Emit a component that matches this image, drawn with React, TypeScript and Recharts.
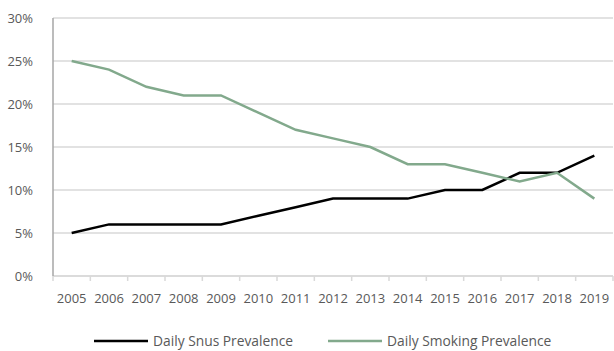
import { LineChart, Line, XAxis, YAxis, CartesianGrid, Legend } from 'recharts'

const years = [
  '2005', '2006', '2007', '2008', '2009', '2010', '2011', '2012',
  '2013', '2014', '2015', '2016', '2017', '2018', '2019',
]
const snus = [5, 6, 6, 6, 6, 7, 8, 9, 9, 9, 10, 10, 12, 12, 14]
const smoking = [25, 24, 22, 21, 21, 19, 17, 16, 15, 13, 13, 12, 11, 12, 9]
const yTicks = [0, 5, 10, 15, 20, 25, 30]

const data = years.map((year, i) => ({ year, snus: snus[i], smoking: smoking[i] }))

const WIDTH = 614
const HEIGHT = 351
const PLOT_LEFT = 53
const PLOT_RIGHT = 1
const STEP = (WIDTH - PLOT_LEFT - PLOT_RIGHT) / years.length
const FONT = '"Open Sans", sans-serif'
const TEXT = '#595959'
const SNUS_COLOR = '#000000'
const SMOKING_COLOR = '#82a98c'

// Category ticks sit between the bands, labels in the middle
function YearTick(props: any) {
  const { x, y, payload, index } = props
  const left = x - STEP / 2
  return (
    <g>
      <line x1={left} y1={y} x2={left} y2={y + 5} stroke="#d9d9d9" strokeWidth={1.5} />
      {index === years.length - 1 && (
        <line x1={x + STEP / 2} y1={y} x2={x + STEP / 2} y2={y + 5} stroke="#d9d9d9" strokeWidth={1.5} />
      )}
      <text x={x} y={y + 27} textAnchor="middle" fill={TEXT} fontSize={13} fontFamily={FONT}>
        {payload.value}
      </text>
    </g>
  )
}

function LegendContent() {
  const items = [
    { label: 'Daily Snus Prevalence', color: SNUS_COLOR, width: 234 },
    { label: 'Daily Smoking Prevalence', color: SMOKING_COLOR, width: 250 },
  ]
  return (
    <div
      style={{
        display: 'flex',
        alignItems: 'center',
        height: 30,
        paddingTop: 10,
        paddingLeft: 94,
        boxSizing: 'border-box',
        lineHeight: '20px',
        fontFamily: FONT,
        fontSize: 13.8,
        color: TEXT,
      }}
    >
      {items.map((item) => (
        <div key={item.label} style={{ display: 'flex', alignItems: 'center', width: item.width }}>
          <svg width={54} height={6} style={{ marginRight: 5, display: 'block' }}>
            <line x1={0} y1={3} x2={54} y2={3} stroke={item.color} strokeWidth={2.5} />
          </svg>
          <span>{item.label}</span>
        </div>
      ))}
    </div>
  )
}

export default function App() {
  return (
    <div
      style={{
        position: 'fixed',
        top: 0,
        left: 0,
        width: WIDTH,
        height: HEIGHT,
        overflow: 'hidden',
        background: '#fff',
      }}
    >
      <LineChart
        width={WIDTH}
        height={HEIGHT}
        data={data}
        margin={{ top: 18, right: PLOT_RIGHT, bottom: 0, left: 0 }}
      >
        <CartesianGrid vertical={false} stroke="#d9d9d9" strokeWidth={1.5} />
        <XAxis
          dataKey="year"
          height={45}
          interval={0}
          padding={{ left: STEP / 2, right: STEP / 2 }}
          tickLine={false}
          tickSize={0}
          tickMargin={0}
          axisLine={{ stroke: '#d9d9d9', strokeWidth: 1.5 }}
          tick={<YearTick />}
        />
        <YAxis
          width={PLOT_LEFT}
          domain={[0, 30]}
          ticks={yTicks}
          tickFormatter={(v: number) => `${v}%`}
          tickLine={false}
          tickMargin={14}
          axisLine={{ stroke: '#a6a6a6', strokeWidth: 1.5 }}
          tick={{ fill: TEXT, fontSize: 13, fontFamily: FONT }}
        />
        <Legend
          verticalAlign="bottom"
          wrapperStyle={{ top: 321, left: 0, width: WIDTH }}
          content={<LegendContent />}
        />
        <Line
          type="linear"
          dataKey="snus"
          name="Daily Snus Prevalence"
          stroke={SNUS_COLOR}
          strokeWidth={2.5}
          dot={false}
          isAnimationActive={false}
        />
        <Line
          type="linear"
          dataKey="smoking"
          name="Daily Smoking Prevalence"
          stroke={SMOKING_COLOR}
          strokeWidth={2.5}
          dot={false}
          isAnimationActive={false}
        />
      </LineChart>
    </div>
  )
}
